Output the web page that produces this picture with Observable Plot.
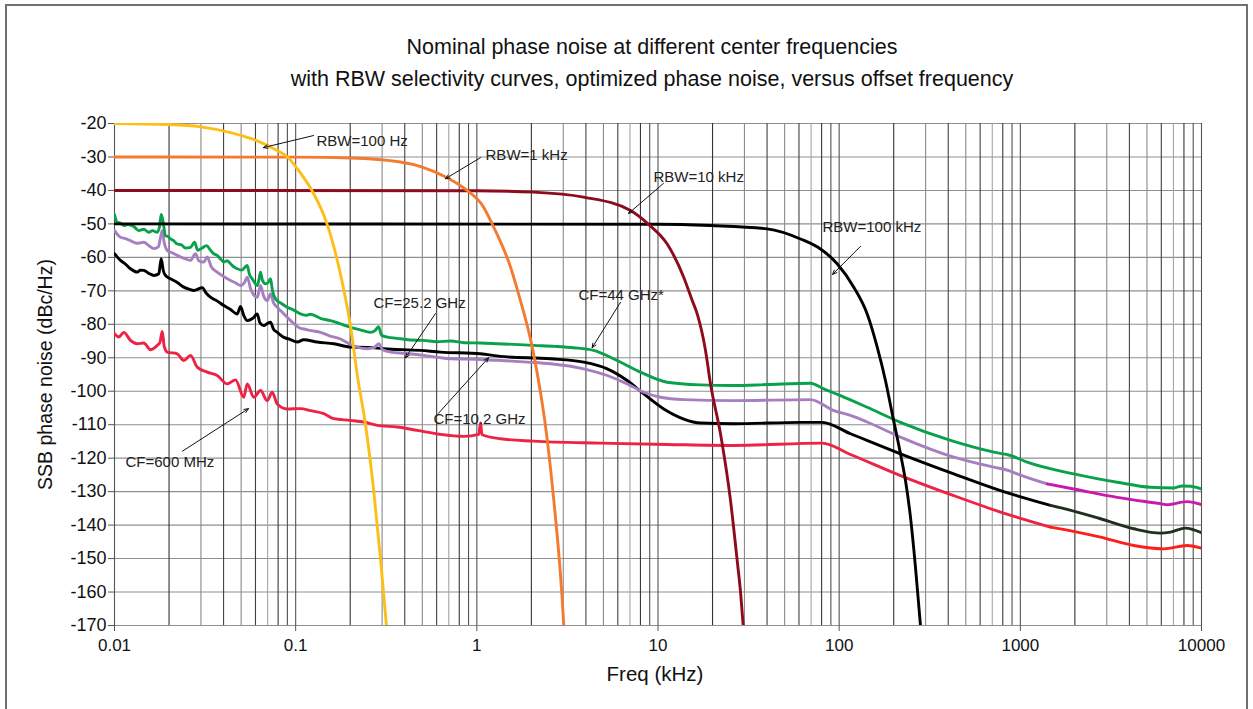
<!DOCTYPE html>
<html><head><meta charset="utf-8">
<script src="https://cdn.jsdelivr.net/npm/d3@7"></script>
<script src="https://cdn.jsdelivr.net/npm/@observablehq/plot@0.6"></script>
<style>
body{margin:0;background:#fff;font-family:"Liberation Sans",Arial,sans-serif;}
#wrap{position:relative;width:1253px;height:709px;overflow:hidden;background:#fff;}
#frame{position:absolute;left:5px;top:4px;width:1243px;height:730px;border:2px solid #707070;box-sizing:border-box;z-index:2;pointer-events:none;}
#title{position:absolute;left:51px;top:0;width:1202px;height:100px;text-align:center;font-size:21.5px;color:#111;}
#title .l{position:absolute;left:0;width:100%;line-height:24px;}
#chart{position:absolute;left:0;top:100px;z-index:1;}
</style></head>
<body>
<div id="wrap">
  <div id="title"><div class="l" style="top:35px">Nominal phase noise at different center frequencies</div><div class="l" style="top:67px">with RBW selectivity curves, optimized phase noise, versus offset frequency</div></div>
  <div id="chart"></div>
  <div id="frame"></div>
</div>
<script>
// ---------- data: [offset frequency kHz, dBc/Hz] ----------
const cf44 = [[0.01,-47.2],[0.01035,-49.5],[0.0108,-49.8],[0.01126,-50.5],[0.0118,-50.2],[0.01278,-50.8],[0.0132,-51.5],[0.01362,-52],[0.0145,-51.6],[0.01546,-52.5],[0.0162,-52.0],[0.01721,-52.5],[0.0177,-51.0],[0.0181,-47.2],[0.0185,-49.0],[0.0191,-53.5],[0.0198,-53.8],[0.02038,-54.5],[0.0212,-55.0],[0.02219,-56],[0.0235,-56.3],[0.0245,-57.2],[0.02628,-57],[0.02764,-55.5],[0.02883,-57.9],[0.0305,-57.2],[0.0322,-56.5],[0.03388,-57.9],[0.0355,-59.0],[0.03688,-59.4],[0.0385,-60.5],[0.04012,-61.4],[0.0418,-61.0],[0.04369,-61.9],[0.0455,-62.8],[0.04757,-63.4],[0.0505,-63.8],[0.05402,-62.4],[0.0555,-65.0],[0.05755,-66.4],[0.06135,-68.4],[0.0628,-66.5],[0.06398,-64.4],[0.0655,-66.8],[0.06815,-67.9],[0.0705,-67.5],[0.07262,-66.4],[0.0745,-70.0],[0.0774,-72.4],[0.0835,-73.8],[0.08979,-74.9],[0.0965,-75.6],[0.1063,-76.9],[0.1135,-77.3],[0.1208,-77.0],[0.138,-78.3],[0.1557,-78.9],[0.175,-79.8],[0.2007,-80.9],[0.225,-81.6],[0.2588,-82.4],[0.275,-81.8],[0.2866,-80.7],[0.298,-83.3],[0.3338,-84],[0.38,-84.3],[0.43,-84.7],[0.5077,-84.8],[0.6,-85.2],[0.72,-85.0],[0.85,-85.5],[1.048,-85.6],[1.3,-85.8],[1.6,-86.0],[2.055,-86.3],[2.7,-86.6],[3.417,-87],[4.405,-87.8],[5.952,-90.8],[8.009,-94.3],[11.24,-97.3],[17.16,-98.1],[26.11,-98.3],[40.05,-98],[69.45,-97.6],[82.26,-99.3],[101.7,-101.3],[142.8,-104.8],[218,-109.3],[411.7,-114.7],[713.8,-118.2],[882.2,-119.2],[1091,-121.2],[1972,-124.7],[3424,-127.2],[5228,-128.7],[7031,-128.9],[7823,-128.3],[8694,-128.4],[10000,-129.2]];

const cf25 = [[0.01,-52],[0.0104,-53.2],[0.01079,-54],[0.0115,-54.4],[0.01225,-55],[0.0133,-55.8],[0.01451,-55.5],[0.0155,-56.5],[0.01648,-57.4],[0.0175,-56.8],[0.0178,-55],[0.01834,-52],[0.0188,-55.5],[0.01954,-57.9],[0.0208,-58.6],[0.02219,-59.4],[0.0242,-60.3],[0.02628,-60.9],[0.028,-58.9],[0.0292,-61.0],[0.03111,-61.4],[0.03249,-59.9],[0.0342,-62.8],[0.03688,-64.4],[0.0402,-65.8],[0.04369,-66.9],[0.0465,-67.6],[0.04961,-68.4],[0.0522,-67.5],[0.05402,-65.9],[0.0565,-69.5],[0.06135,-71.9],[0.0628,-70.0],[0.06398,-68.4],[0.0665,-71.5],[0.06965,-72.9],[0.07262,-70.9],[0.0755,-73.6],[0.07911,-74.9],[0.0865,-77.0],[0.09365,-78.9],[0.1063,-81.2],[0.1109,-81.4],[0.122,-81.9],[0.1371,-82.4],[0.155,-83.5],[0.1768,-84.4],[0.197,-85.8],[0.2186,-86.8],[0.2482,-87.3],[0.27,-87.0],[0.2877,-85.8],[0.302,-87.6],[0.3338,-88.3],[0.4,-88.7],[0.5096,-89.3],[0.6,-89.8],[0.7153,-90.3],[1.048,-90.5],[1.351,-90.8],[1.9,-91.3],[2.551,-91.8],[3.894,-93.3],[5.244,-95.3],[6.761,-97.8],[8.349,-100.3],[10.32,-101.8],[13.88,-102.5],[26.21,-102.8],[69.45,-102.5],[93.42,-105.8],[115.5,-107.2],[142.8,-109.2],[218,-113.7],[429.3,-119.7],[713.8,-122.7],[863.5,-123.7],[960.7,-124.7],[1407,-127.7],[1972,-129.2],[3424,-131.7],[5936,-133.6],[6466,-133.9],[8337,-133],[10000,-133.9]];

const cf10 = [[0.01,-58.9],[0.0104,-60.0],[0.01079,-60.9],[0.0115,-62.0],[0.01225,-63.4],[0.01335,-64.4],[0.0139,-63.8],[0.01451,-63.9],[0.0155,-64.8],[0.01648,-65.4],[0.01756,-64.9],[0.0181,-60.4],[0.0186,-64],[0.01912,-65.4],[0.02038,-66.4],[0.0222,-67.5],[0.02413,-68.9],[0.0258,-69.5],[0.0274,-69.9],[0.03049,-69.1],[0.0322,-70.8],[0.03388,-71.9],[0.0368,-73.0],[0.04012,-74.4],[0.0435,-75.5],[0.04757,-76.9],[0.04961,-74.7],[0.0518,-77.5],[0.05402,-78.9],[0.058,-78.2],[0.06135,-76.9],[0.0635,-79.6],[0.06671,-80.4],[0.0695,-79.8],[0.07262,-79.4],[0.0755,-81.5],[0.07911,-82.4],[0.086,-83.9],[0.093,-84.5],[0.102,-85.3],[0.1108,-84.6],[0.1315,-85.3],[0.1624,-85.8],[0.2007,-86.8],[0.25,-86.9],[0.3065,-87.3],[0.4887,-87.8],[0.6302,-88.3],[1.048,-88.8],[1.351,-89.6],[2.551,-90.3],[3.894,-91.3],[5.244,-93.3],[6.761,-96.8],[8.349,-100.8],[10.76,-105.3],[13.88,-108.3],[17.16,-109.5],[26.21,-109.7],[61.15,-109.3],[80.6,-109.3],[115.5,-112.7],[218,-118.7],[429.3,-124.7],[777.2,-129.7],[1467,-134.1],[2060,-136.1],[2770,-138.1],[4228,-141.1],[5936,-142.4],[6744,-142.1],[8159,-140.9],[10000,-142.3]];

const cf600m = [[0.01,-82.8],[0.01056,-83.8],[0.01126,-82.4],[0.01225,-84.8],[0.01335,-85.8],[0.01451,-85.6],[0.0158,-87.6],[0.01721,-86.3],[0.0178,-85.5],[0.01834,-82.1],[0.0188,-86.5],[0.01954,-88.3],[0.02219,-88.8],[0.02413,-90.8],[0.02628,-89.3],[0.02861,-92.8],[0.03249,-94.3],[0.03688,-95.3],[0.04188,-97.8],[0.04655,-96.6],[0.05171,-101.8],[0.05402,-97.8],[0.05873,-101.8],[0.06398,-99.8],[0.06965,-102.8],[0.07421,-100.3],[0.07911,-103.8],[0.08979,-105.3],[0.1063,-105.2],[0.1208,-105.8],[0.143,-106.7],[0.1624,-108.2],[0.2007,-108.7],[0.2377,-109.2],[0.2818,-110.2],[0.3634,-110.7],[0.4686,-111.7],[0.6302,-112.9],[0.8474,-113.5],[1.025,-112.9],[1.048,-109.5],[1.068,-113],[1.351,-114.2],[2.063,-114.9],[4.815,-115.5],[11.24,-115.9],[26.21,-116.2],[80.6,-115.5],[115.5,-118.9],[218,-125.2],[429.3,-131.2],[777.2,-136.1],[1467,-140.6],[2060,-142.1],[2770,-143.6],[4228,-146.1],[6192,-147.1],[8337,-146.1],[10000,-146.9]];

const rbw100Hz = [[0.01,-20],[0.02,-20.3],[0.03,-21],[0.045,-22.9],[0.061,-25.1],[0.076,-27.6],[0.09,-30],[0.107,-35],[0.123,-40],[0.149,-50],[0.159,-55],[0.18,-67],[0.2,-80],[0.22,-96],[0.243,-110],[0.27,-130],[0.295,-151],[0.317,-170]];
const rbw1kHz = [[0.01,-30],[0.1,-30.05],[0.2,-30.3],[0.379,-31.5],[0.5,-33],[0.686,-36.2],[0.884,-40],[1.09,-45],[1.215,-50],[1.534,-62.9],[1.7,-71],[2.04,-87.8],[2.45,-114.7],[2.66,-132.6],[2.94,-159.8],[3.02,-170]];
const rbw10kHz = [[0.01,-40],[1,-40.1],[2.055,-40.5],[3.88,-42],[7.05,-46],[8.9,-50.2],[11.24,-56],[13.88,-66],[15.45,-72.9],[16.46,-76.9],[18.29,-87.8],[19.49,-97.8],[22.13,-112.7],[25.13,-132.6],[27.36,-150.6],[28.53,-159.8],[29.53,-170]];
const rbw100kHz = [[0.01,-50],[10,-50.1],[19.49,-50.5],[40.05,-51.5],[61.15,-54.5],[78.88,-57.5],[97.5,-61.9],[120.4,-68.9],[142.8,-76.9],[162.2,-86.8],[180.1,-96.8],[196.2,-106.7],[218,-118.7],[232.3,-126.7],[247.5,-137.6],[263.8,-152.6],[281.1,-170]];

// tick values
const xTicks = [0.01, 0.1, 1, 10, 100, 1000, 10000];
const yTicks = [-20,-30,-40,-50,-60,-70,-80,-90,-100,-110,-120,-130,-140,-150,-160,-170];
const gridDecades = [0.01, 0.1, 1, 10, 100, 1000];
const gridMultipliers = [1,2,3,4,5,6,7,8,9];

// annotations
const annotLabels = ["RBW=100 Hz","RBW=1 kHz","RBW=10 kHz","RBW=100 kHz","CF=44 GHz*","CF=25.2 GHz","CF=10.2 GHz","CF=600 MHz"];
const annotTextF  = [0.1303, 1.117, 9.44, 80.9, 3.64, 0.269, 0.576, 0.0115];
const annotTextDb = [-25.4, -29.6, -36.1, -51.1, -71.4, -73.8, -108.4, -121.3];
const arrowFromF  = [0.1255, 1.048, 10.72, 131.2, 6.21, 0.591, 0.614, 0.02373];
const arrowFromDb = [-23.6, -30.2, -37.9, -56.7, -73.4, -76.8, -106.6, -117.9];
const arrowToF    = [0.0663, 0.671, 6.87, 91.9, 4.33, 0.404, 1.16, 0.0549];
const arrowToDb   = [-27.2, -36.5, -46.9, -65.1, -87.0, -90.0, -90.0, -105.2];

const colorChangeF = 1400;

// ---------- build ----------
const rows = p => p.map(([f, db]) => ({f, db}));
function split(p) {
  const i = p.findIndex(d => d[0] >= colorChangeF);
  return [rows(p.slice(0, i + 1)), rows(p.slice(i))];
}
const [cf25a, cf25b] = split(cf25);
const [cf10a, cf10b] = split(cf10);
const [cf600a, cf600b] = split(cf600m);

const gridRows = [];
for (const d of gridDecades) for (const m of gridMultipliers) gridRows.push({f: d * m, m});
gridRows.push({f: 10000, m: 1});
const shade = {1:"#555555",2:"#333333",3:"#8a8a8a",4:"#444444",5:"#8a8a8a",6:"#404040",7:"#a5a5a5",8:"#383838",9:"#505050"};

const annots = annotLabels.map((t, i) => ({t, tf: annotTextF[i], tdb: annotTextDb[i], f1: arrowFromF[i], y1: arrowFromDb[i], f2: arrowToF[i], y2: arrowToDb[i]}));

const lw = 2.9;
const line = (data, stroke) => Plot.line(data, {x: "f", y: "db", stroke, strokeWidth: lw, curve: "monotone-x", clip: true});

const chart = Plot.plot({
  width: 1253,
  height: 609,
  marginTop: 23,
  marginBottom: 84,
  marginLeft: 114,
  marginRight: 52,
  style: {fontFamily: "'Liberation Sans', Arial, sans-serif", fontSize: "17px", color: "#111", background: "#fff"},
  x: {type: "log", domain: [0.01, 10000]},
  y: {domain: [-170, -20]},
  marks: [
    Plot.ruleY(yTicks, {stroke: "#8f8f8f", strokeWidth: 1.1}),
    ...Object.keys(shade).map(m => Plot.ruleX(gridRows.filter(r => r.m == m), {x: "f", stroke: shade[m], strokeWidth: 1.1})),
    Plot.axisX({ticks: xTicks, tickFormat: d => String(d), tickSize: 6, tickPadding: 7, label: null, stroke: "#555", fontSize: 17}),
    Plot.axisY({ticks: yTicks, tickFormat: d => String(d), tickSize: 6, tickPadding: 2, label: null, stroke: "#555", fontSize: 18}),
    Plot.text(["SSB phase noise (dBc/Hz)"], {frameAnchor: "left", textAnchor: "middle", dx: -69, rotate: -90, fontSize: 19.5, fill: "#111"}),
    Plot.text(["Freq (kHz)"], {frameAnchor: "bottom", textAnchor: "middle", dx: -3, dy: 55, fontSize: 20.5, fill: "#111"}),
    // center-frequency phase noise curves
    line(cf600a, "#ee2244"), line(cf600b, "#ff1e1e"),
    line(cf10a, "#000000"), line(cf10b, "#1f301f"),
    line(cf25a, "#a67fc1"), line(cf25b, "#c81aae"),
    line(rows(cf44), "#0aa14c"),
    // RBW selectivity curves
    line(rows(rbw100kHz), "#000000"),
    line(rows(rbw10kHz), "#8c0c1e"),
    line(rows(rbw1kHz), "#f47a30"),
    line(rows(rbw100Hz), "#fdbf17"),
    // annotations
    Plot.arrow(annots, {x1: "f1", y1: "y1", x2: "f2", y2: "y2", stroke: "#111", strokeWidth: 1, headLength: 7, headAngle: 45}),
    Plot.text(annots, {x: "tf", y: "tdb", text: "t", textAnchor: "start", fontSize: 15, fill: "#222"})
  ]
});
document.getElementById("chart").appendChild(chart);
</script>
</body></html>
